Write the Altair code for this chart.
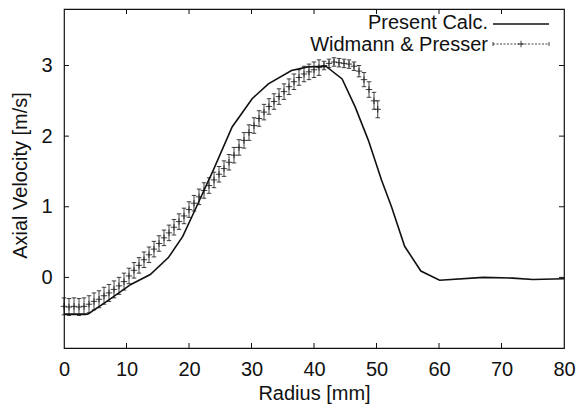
import altair as alt
import pandas as pd

# Present calculation (solid line)
calc_r = [0.0, 3.8, 6.5, 10.7, 13.8, 16.7, 19.0, 21.2, 22.7, 23.8, 26.9, 30.1, 32.7,
          36.4, 39.0, 41.9, 44.5, 46.6, 48.7, 50.8, 52.4, 54.5, 57.1, 60.1, 67.1,
          71.8, 75.0, 80.0]
calc_v = [-0.52, -0.52, -0.36, -0.10, 0.04, 0.28, 0.58, 1.00, 1.29, 1.50, 2.13, 2.53,
          2.74, 2.93, 2.98, 2.99, 2.81, 2.41, 1.94, 1.38, 1.00, 0.44, 0.09, -0.04,
          0.00, -0.01, -0.03, -0.02]

# Widmann & Presser measurements (points with error bars)
exp_r = [0.0, 0.8, 1.6, 2.4, 3.2, 4.0, 4.8, 5.6, 6.4, 7.2, 8.0, 8.8, 9.6, 10.4, 11.2,
         12.0, 12.8, 13.6, 14.4, 15.2, 16.0, 16.8, 17.6, 18.4, 19.2, 20.0, 20.8, 21.6,
         22.4, 23.2, 24.0, 24.8, 25.6, 26.4, 27.2, 28.0, 28.8, 29.6, 30.4, 31.2, 32.0,
         32.8, 33.6, 34.4, 35.2, 36.0, 36.8, 37.6, 38.4, 39.2, 40.0, 40.8, 41.6, 42.4,
         43.2, 44.0, 44.8, 45.6, 46.4, 47.2, 48.0, 48.8, 49.6, 50.2]
exp_v = [-0.41, -0.42, -0.41, -0.42, -0.41, -0.38, -0.34, -0.31, -0.26, -0.22, -0.17,
         -0.12, -0.06, 0.02, 0.10, 0.17, 0.25, 0.32, 0.40, 0.48, 0.56, 0.63, 0.71, 0.79,
         0.87, 0.96, 1.05, 1.14, 1.23, 1.30, 1.38, 1.46, 1.54, 1.63, 1.73, 1.84, 1.94,
         2.05, 2.15, 2.25, 2.34, 2.42, 2.49, 2.56, 2.63, 2.70, 2.77, 2.83, 2.88, 2.91,
         2.94, 2.97, 3.00, 3.03, 3.05, 3.04, 3.03, 3.02, 2.99, 2.92, 2.80, 2.66, 2.50,
         2.38]
exp_err = [0.12] * 13 + [0.11] * 39 + [0.06] * 7 + [0.08, 0.10, 0.11, 0.12, 0.12]

x_ticks = [0, 10, 20, 30, 40, 50, 60, 70, 80]
y_ticks = [0, 1, 2, 3]

W, H = 500, 339
FONT = "Liberation Sans"
INK = "#111111"

calc_df = pd.DataFrame({"r": calc_r, "v": calc_v})
exp_df = pd.DataFrame({"r": exp_r, "v": exp_v, "e": exp_err})
exp_df["lo"] = exp_df["v"] - exp_df["e"]
exp_df["hi"] = exp_df["v"] + exp_df["e"]
caps_df = pd.concat([
    pd.DataFrame({"r": exp_df["r"], "v": exp_df["lo"]}),
    pd.DataFrame({"r": exp_df["r"], "v": exp_df["hi"]}),
])
xt_df = pd.DataFrame({"r": x_ticks[1:-1]})
yt_df = pd.DataFrame({"v": y_ticks})
one = pd.DataFrame({"a": [0]})

xscale = alt.Scale(domain=[0, 80], nice=False, zero=False)
yscale = alt.Scale(domain=[-1, 3.8], nice=False, zero=False)

xaxis = alt.Axis(values=x_ticks, title="Radius [mm]", grid=False, ticks=False, tickSize=0,
                 domain=False, labelFont=FONT, labelFontSize=20, labelColor=INK,
                 labelPadding=21, labelBaseline="middle", labelFlush=False,
                 titleFont=FONT, titleFontSize=20, titleFontWeight="normal", titleColor=INK,
                 titleY=45, titleBaseline="middle")
yaxis = alt.Axis(values=y_ticks, title="Axial Velocity [m/s]", grid=False, ticks=False,
                 tickSize=0, domain=False, labelFont=FONT, labelFontSize=20, labelColor=INK,
                 labelPadding=12, labelFlush=False,
                 titleFont=FONT, titleFontSize=20, titleFontWeight="normal", titleColor=INK,
                 titleX=-44, titleY=166, titleAngle=270, titleBaseline="middle",
                 titleAlign="center")


def X(field="r"):
    return alt.X(f"{field}:Q", scale=xscale, axis=xaxis)


def Y(field="v"):
    return alt.Y(f"{field}:Q", scale=yscale, axis=yaxis)


line = alt.Chart(calc_df).mark_line(color=INK, strokeWidth=1.6).encode(x=X(), y=Y())

bars = alt.Chart(exp_df).mark_rule(color=INK, strokeWidth=0.8).encode(
    x=X(), y=Y("lo"), y2="hi:Q")

caps = alt.Chart(caps_df).mark_point(
    shape="M-1,0L1,0", size=20, filled=False, color=INK, strokeWidth=0.8, opacity=1
).encode(x=X(), y=Y())

pluses = alt.Chart(exp_df).mark_point(
    shape="M-1,0L1,0M0,-1L0,1", size=42, filled=False, color=INK, strokeWidth=0.8, opacity=1
).encode(x=X(), y=Y())

# inward tick marks on all four sides (gnuplot style)
tb = alt.Chart(xt_df).mark_rule(color=INK, strokeWidth=1).encode(
    x=X(), y=alt.value(H), y2=alt.value(H - 5))
tt = alt.Chart(xt_df).mark_rule(color=INK, strokeWidth=1).encode(
    x=X(), y=alt.value(0), y2=alt.value(5))
tl = alt.Chart(yt_df).mark_rule(color=INK, strokeWidth=1).encode(
    y=Y(), x=alt.value(0), x2=alt.value(5))
tr = alt.Chart(yt_df).mark_rule(color=INK, strokeWidth=1).encode(
    y=Y(), x=alt.value(W), x2=alt.value(W - 5))

# key (top right)
k1_text = alt.Chart(one).mark_text(
    text="Present Calc.", font=FONT, fontSize=20, color=INK, align="right",
    baseline="middle").encode(x=alt.value(424), y=alt.value(14))
k1_line = alt.Chart(one).mark_rule(color=INK, strokeWidth=1.6).encode(
    x=alt.value(429), x2=alt.value(485), y=alt.value(15))
k2_text = alt.Chart(one).mark_text(
    text="Widmann & Presser", font=FONT, fontSize=20, color=INK, align="right",
    baseline="middle").encode(x=alt.value(424), y=alt.value(36))
k2_line = alt.Chart(one).mark_rule(color=INK, strokeWidth=0.8, strokeDash=[2, 1.5]).encode(
    x=alt.value(429), x2=alt.value(485), y=alt.value(35))
k2_end1 = alt.Chart(one).mark_rule(color=INK, strokeWidth=0.8).encode(
    x=alt.value(429), y=alt.value(33), y2=alt.value(37))
k2_end2 = alt.Chart(one).mark_rule(color=INK, strokeWidth=0.8).encode(
    x=alt.value(485), y=alt.value(33), y2=alt.value(37))
k2_plus = alt.Chart(one).mark_point(
    shape="M-1,0L1,0M0,-1L0,1", size=42, filled=False, color=INK, strokeWidth=0.8,
    opacity=1).encode(x=alt.value(457), y=alt.value(35))

chart = alt.layer(
    line, bars, caps, pluses, tb, tt, tl, tr,
    k1_text, k1_line, k2_text, k2_line, k2_end1, k2_end2, k2_plus
).properties(
    width=W, height=H,
    autosize=alt.AutoSizeParams(type="none"),
    padding={"left": 56, "top": 1, "right": 12, "bottom": 56},
    background="white",
).configure_view(stroke=INK, strokeWidth=1.2)

chart.save("out.html", embed_options={"renderer": "svg", "actions": False})
